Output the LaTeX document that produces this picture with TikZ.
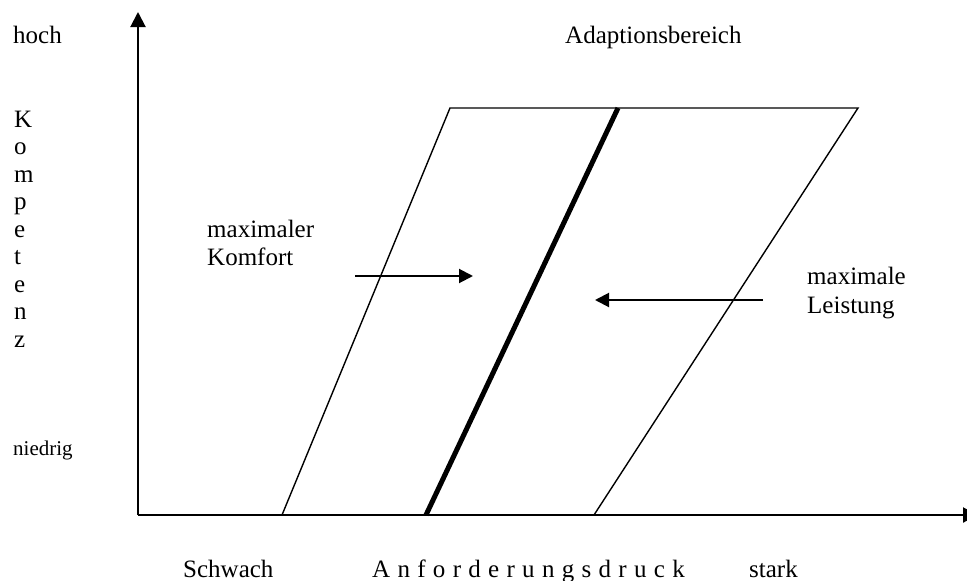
\documentclass[tikz,border=0pt]{standalone}
\usepackage{fontspec}
\setmainfont{Liberation Serif}
\usetikzlibrary{arrows.meta}
\begin{document}
\begin{tikzpicture}[x=1pt,y=-1pt,
  lbl/.style={inner sep=0pt, anchor=base west, font=\fontsize{25}{27.5}\selectfont},
  small/.style={inner sep=0pt, anchor=base west, font=\fontsize{21}{25}\selectfont},
  axis/.style={line width=2pt, -{Triangle[length=15pt,width=15pt]}},
  side/.style={line width=1.4pt},
  mid/.style={line width=5pt},
  push/.style={line width=2pt, -{Triangle[length=14pt,width=14pt]}}]
\useasboundingbox (0,0) rectangle (967,581);
\clip (0,0) rectangle (967,581);
% axes
\coordinate (O) at (138,515);
\coordinate (ytop) at (138,12);
\coordinate (xend) at (978,515);
\draw[axis] (O) -- (ytop);
\draw[axis] (O) -- (xend);
% trapezoid
\coordinate (bl) at (282,515);
\coordinate (tl) at (450,108);
\coordinate (tr) at (858,108);
\coordinate (br) at (594,515);
\draw[side] (bl) -- (tl) -- (tr) -- (br);
% thick middle line
\coordinate (mb) at (426,515);
\coordinate (mt) at (618,108);
\draw[mid] (mb) -- (mt);
% arrows
\coordinate (ka) at (355,276);
\coordinate (kb) at (473,276);
\draw[push] (ka) -- (kb);
\coordinate (la) at (763,300);
\coordinate (lb) at (595,300);
\draw[push] (la) -- (lb);
% texts
\node[lbl] (hoch) at (13,43) {hoch};
\node[small] (niedrig) at (13,455) {niedrig};
\node[lbl] (adapt) at (565,43) {Adaptionsbereich};
\foreach \l [count=\i] in {K,o,m,p,e,t,e,n,z}
  \node[lbl] (k\i) at (14,{127+(\i-1)*27.5}) {\l};
\node[lbl] (max1) at (207,237.5) {maximaler};
\node[lbl] (max2) at (207,265) {Komfort};
\node[lbl] (lei1) at (807,284) {maximale};
\node[lbl] (lei2) at (807,313) {Leistung};
\node[lbl] (schwach) at (183,577) {Schwach};
\node[lbl] (anf) at (372,577) {\spaceskip=7.3pt A n f o r d e r u n g s d r u c k};
\node[lbl] (stark) at (749,577) {stark};
\end{tikzpicture}
\end{document}
